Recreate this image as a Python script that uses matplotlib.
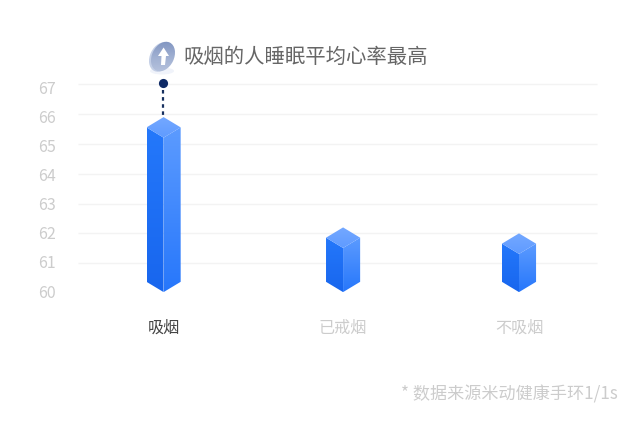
import numpy as np
import matplotlib
matplotlib.use('Agg')
import matplotlib.pyplot as plt
from matplotlib.patches import Polygon, Ellipse
from matplotlib.colors import LinearSegmentedColormap

plt.rcParams['font.family'] = ['Noto Sans CJK SC', 'DejaVu Sans']

categories = ['吸烟', '已戒烟', '不吸烟']
values = [65.9, 62.2, 62.0]
y_ticks = [60, 61, 62, 63, 64, 65, 66, 67]
grid_ticks = [61, 62, 63, 64, 65, 66, 67]
title = '吸烟的人睡眠平均心率最高'
note = '* 数据来源米动健康手环1/1s'

W, H = 640, 438
bar_x = [0, 1.01, 2]
half_w = 0.096
dy = 0.345


def px_axes(fig, left, top, right, bottom, **kw):
    return fig.add_axes([left/W, 1-bottom/H, (right-left)/W, (bottom-top)/H], **kw)


def grad_face(ax, pts, c_top, c_bottom, zorder=3):
    # vertical gradient clipped to the face
    pts = np.array(pts)
    cmap = LinearSegmentedColormap.from_list('f', [c_top, c_bottom])
    grad = np.linspace(0, 1, 128).reshape(-1, 1)
    im = ax.imshow(grad, cmap=cmap, aspect='auto', zorder=zorder, interpolation='bilinear',
                   extent=[pts[:, 0].min(), pts[:, 0].max(), pts[:, 1].min(), pts[:, 1].max()],
                   origin='upper')
    poly = Polygon(pts, closed=True, transform=ax.transData, fc='none', ec='none')
    ax.add_patch(poly)
    im.set_clip_path(poly)


def bar3d(ax, x, v):
    l, r = x-half_w, x+half_w
    base = 60.03
    # left face, right face, top
    grad_face(ax, [(l, v-dy), (x, v-2*dy), (x, base), (l, base+dy)], '#2478fb', '#1866ee')
    grad_face(ax, [(x, v-2*dy), (r, v-dy), (r, base+dy), (x, base)], '#5c9bff', '#2777fb')
    grad_face(ax, [(x, v), (r, v-dy), (x, v-2*dy), (l, v-dy)], '#74a8ff', '#5f9bff', zorder=4)


fig = plt.figure(figsize=(W/100, H/100), dpi=100, facecolor='white')

# main plot: gridlines and bars
ax = px_axes(fig, 78, 84.3, 597, 293)
ax.set_ylim(60, 67)
ax.set_xlim(-(163.6-78)/177.7, (597-163.6)/177.7)
ax.hlines(grid_ticks, *ax.get_xlim(), colors='#f3f3f3', lw=1, zorder=1, clip_on=False)
for x, v in zip(bar_x, values):
    bar3d(ax, x, v)
ax.set_ylim(60, 67)
ax.set_xlim(-(163.6-78)/177.7, (597-163.6)/177.7)
for s in ax.spines.values():
    s.set_visible(False)
ax.set_yticks([])
ax.set_xticks(bar_x)
ax.set_xticklabels(categories, fontsize=11.6)
ax.tick_params(axis='x', length=0, pad=19.5)
for lab, c in zip(ax.get_xticklabels(), ['#444444', '#cccccc', '#cccccc']):
    lab.set_color(c)
ax.patch.set_alpha(0)

# y labels sit slightly tighter than the gridlines
ax_lab = px_axes(fig, 78, 87, 597, 291)
ax_lab.set_ylim(60, 67)
ax_lab.set_yticks(y_ticks)
ax_lab.set_xticks([])
ax_lab.tick_params(axis='y', length=0, pad=16, labelsize=11.5, labelcolor='#cccccc')
ax_lab.patch.set_alpha(0)
for s in ax_lab.spines.values():
    s.set_visible(False)

# callout marker, title and footnote in pixel coordinates
ov = fig.add_axes([0, 0, 1, 1])
ov.set_xlim(0, W)
ov.set_ylim(H, 0)
ov.axis('off')
ov.patch.set_alpha(0)
ov.plot([163, 163], [90, 115], color='#17305f', lw=1.6, ls=(0, (1.6, 1.6)), zorder=5)
ov.plot([163], [83], 'o', ms=6.6, color='#0f2a66', mec='none', zorder=6)

ov.add_patch(Ellipse((162, 71), 24, 7, fc='#f0f3fa', ec='none', zorder=4))
ov.add_patch(Ellipse((161, 57), 22, 31, angle=26, fc='#c4cfe6', ec='none', zorder=5))
badge = Ellipse((163, 56.5), 22, 31, angle=26, fc='none', ec='none', zorder=6)
ov.add_patch(badge)
cm_badge = LinearSegmentedColormap.from_list('b', ['#7f94c0', '#a0b0d2', '#b8c4de'])
im = ov.imshow(np.linspace(0, 1, 64).reshape(-1, 1), cmap=cm_badge, aspect='auto',
               extent=[146, 180, 74, 40], zorder=6)
im.set_clip_path(badge)
ov.set_xlim(0, W)
ov.set_ylim(H, 0)
arrow = [(163.6, 47.5), (169, 56), (166, 56), (165, 65), (161, 65), (161.5, 56), (158, 56)]
ov.add_patch(Polygon(arrow, closed=True, fc='white', ec='none', zorder=7))

ov.text(183.5, 57, title, fontsize=14.7, color='#666666', va='center', ha='left')
ov.text(618, 394, note, fontsize=12.3, color='#cccccc', va='center', ha='right')

fig.savefig('out.png', dpi=100)
